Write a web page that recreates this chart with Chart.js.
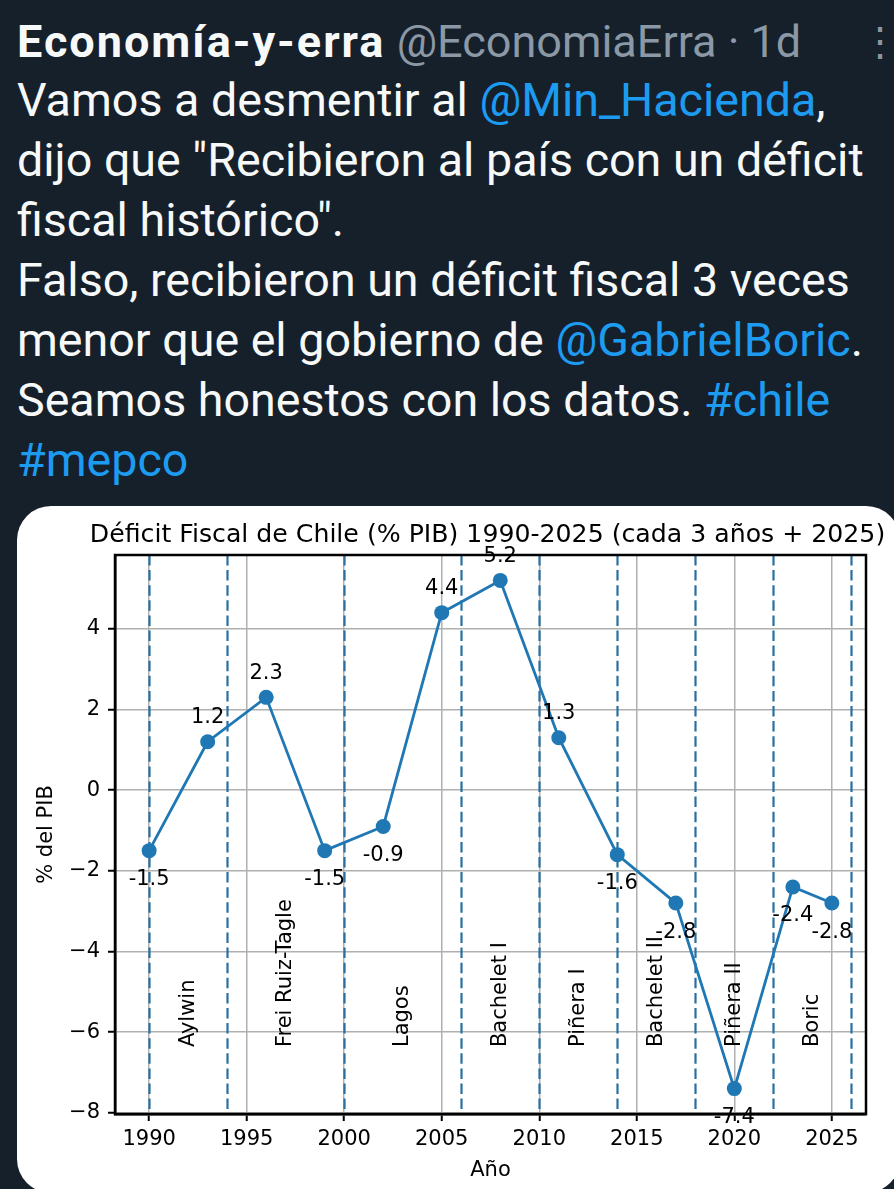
<!DOCTYPE html>
<html>
<head>
<meta charset="utf-8">
<script src="https://cdn.jsdelivr.net/npm/chart.js@4.4.1/dist/chart.umd.min.js"></script>
<style>
  html, body { margin:0; padding:0; }
  body { width:894px; height:1189px; background:#15202b; position:relative; overflow:hidden; font-family: Roboto, "Noto Sans", sans-serif; }
  .ln { position:absolute; left:17px; white-space:nowrap; color:#f7f9f9; font-size:46.6px; line-height:60px; }
  .lk { color:#1d9bf0; }
  .hdr { position:absolute; left:17px; top:12px; white-space:nowrap; font-size:45px; line-height:60px; }
  .name { color:#f7f9f9; font-weight:700; letter-spacing:2px; }
  .handle { color:#8b98a5; }
  .dots { position:absolute; left:860px; top:12px; color:#8b98a5; font-size:40px; line-height:60px; }
  #card { position:absolute; left:17px; top:506px; width:883px; height:687px; background:#ffffff; border-radius:34px; }
  #cv { position:absolute; left:0; top:506px; }
</style>
</head>
<body>
<div class="hdr"><span class="name">Economía-y-erra</span> <span class="handle">@EconomiaErra · 1d</span></div>
<div class="dots">⋮</div>
<div class="ln" style="top:70px">Vamos a desmentir al <span class="lk">@Min_Hacienda</span>,</div>
<div class="ln" style="top:130px">dijo que "Recibieron al país con un déficit</div>
<div class="ln" style="top:190px">fiscal histórico".</div>
<div class="ln" style="top:250px">Falso, recibieron un déficit fiscal 3 veces</div>
<div class="ln" style="top:310px">menor que el gobierno de <span class="lk">@GabrielBoric</span>.</div>
<div class="ln" style="top:370px">Seamos honestos con los datos. <span class="lk">#chile</span></div>
<div class="ln" style="top:430px"><span class="lk">#mepco</span></div>
<div id="card"></div>
<canvas id="cv" width="894" height="683"></canvas>
<script>
// ---- data ----
const years = [1990, 1993, 1996, 1999, 2002, 2005, 2008, 2011, 2014, 2017, 2020, 2023, 2025];
const deficit = [-1.5, 1.2, 2.3, -1.5, -0.9, 4.4, 5.2, 1.3, -1.6, -2.8, -7.4, -2.4, -2.8];
const periodStarts = [1990, 1994, 2000, 2006, 2010, 2014, 2018, 2022, 2026];
const presidents = ["Aylwin", "Frei Ruiz-Tagle", "Lagos", "Bachelet I", "Piñera I", "Bachelet II", "Piñera II", "Boric"];
const xTicks = [1990, 1995, 2000, 2005, 2010, 2015, 2020, 2025];
const yTicks = [-8, -6, -4, -2, 0, 2, 4];
const chartTitle = "Déficit Fiscal de Chile (% PIB) 1990-2025 (cada 3 años + 2025)";
const xTitle = "Año";
const yTitle = "% del PIB";

const FONT = "DejaVu Sans";
const FS = 21;
const BLUE = "#1f77b4";

const extras = {
  id: 'extras',
  beforeDatasetsDraw(chart) {
    const {ctx, chartArea, scales} = chart;
    ctx.save();
    ctx.strokeStyle = '#2a6f9f';
    ctx.lineWidth = 2.2;
    ctx.setLineDash([10.5, 4.6]);
    periodStarts.forEach(yr => {
      const x = Math.round(scales.x.getPixelForValue(yr)) + 0.5;
      ctx.beginPath();
      ctx.moveTo(x, chartArea.top);
      ctx.lineTo(x, chartArea.bottom);
      ctx.stroke();
    });
    ctx.restore();
  },
  afterDatasetsDraw(chart) {
    const {ctx, chartArea, scales} = chart;
    ctx.save();
    // president labels
    ctx.fillStyle = '#000';
    ctx.font = `${FS}px "${FONT}"`;
    ctx.textAlign = 'left';
    ctx.textBaseline = 'middle';
    const yBase = scales.y.getPixelForValue(-6.37);
    presidents.forEach((p, i) => {
      const mid = (periodStarts[i] + periodStarts[i + 1]) / 2;
      const x = scales.x.getPixelForValue(mid);
      ctx.save();
      ctx.translate(x, yBase);
      ctx.rotate(-Math.PI / 2);
      ctx.fillText(p, 0, 0);
      ctx.restore();
    });
    // value labels
    ctx.textAlign = 'center';
    ctx.textBaseline = 'alphabetic';
    years.forEach((yr, i) => {
      const v = deficit[i];
      const x = scales.x.getPixelForValue(yr);
      const y = scales.y.getPixelForValue(v);
      ctx.fillText(String(v), x, v >= 0 ? y - 18.5 : y + 34.5);
    });
    // frame
    ctx.strokeStyle = '#000';
    ctx.lineWidth = 2.5;
    ctx.strokeRect(chartArea.left, chartArea.top, chartArea.right - chartArea.left, chartArea.bottom - chartArea.top);
    // title
    ctx.font = `25.2px "${FONT}"`;
    ctx.textAlign = 'center';
    ctx.fillText(chartTitle, (chartArea.left + chartArea.right) / 2 - 3, chartArea.top - 13);
    ctx.restore();
  }
};

new Chart(document.getElementById('cv'), {
  type: 'line',
  data: {
    datasets: [{
      data: years.map((yr, i) => ({x: yr, y: deficit[i]})),
      borderColor: BLUE,
      backgroundColor: BLUE,
      borderWidth: 2.8,
      pointRadius: 7.5,
      pointBorderWidth: 0,
      pointBackgroundColor: BLUE,
      tension: 0,
      clip: false
    }]
  },
  options: {
    responsive: false,
    devicePixelRatio: 1,
    animation: false,
    events: [],
    layout: { padding: { left: 30, top: 49, right: 28, bottom: 0 } },
    plugins: { legend: { display: false }, tooltip: { enabled: false }, title: { display: false } },
    scales: {
      x: {
        type: 'linear',
        min: 1988.25,
        max: 2026.75,
        afterBuildTicks: s => { s.ticks = xTicks.map(v => ({value: v})); },
        afterFit: s => { s.height = 75; },
        ticks: { font: { family: FONT, size: FS }, color: '#000', padding: 6, maxRotation: 0, autoSkip: false, callback: v => String(v) },
        grid: { color: '#b0b0b0', lineWidth: 1.5, tickLength: 7, tickColor: '#000', tickWidth: 2 },
        border: { display: true, color: '#000', width: 2.5 },
        title: { display: true, text: xTitle, font: { family: FONT, size: FS }, color: '#000', padding: { top: 4, bottom: 6 } }
      },
      y: {
        min: -8.03,
        max: 5.83,
        afterBuildTicks: s => { s.ticks = yTicks.map(v => ({value: v})); },
        afterFit: s => { s.width = 85; },
        ticks: { font: { family: FONT, size: FS }, color: '#000', padding: 8, callback: v => String(v).replace('-', '\u2212') },
        grid: { color: '#b0b0b0', lineWidth: 1.5, tickLength: 7, tickColor: '#000', tickWidth: 2 },
        border: { display: true, color: '#000', width: 2.5 },
        title: { display: true, text: yTitle, font: { family: FONT, size: FS }, color: '#000', padding: { top: 4, bottom: 4 } }
      }
    }
  },
  plugins: [extras]
});
</script>
</body>
</html>
